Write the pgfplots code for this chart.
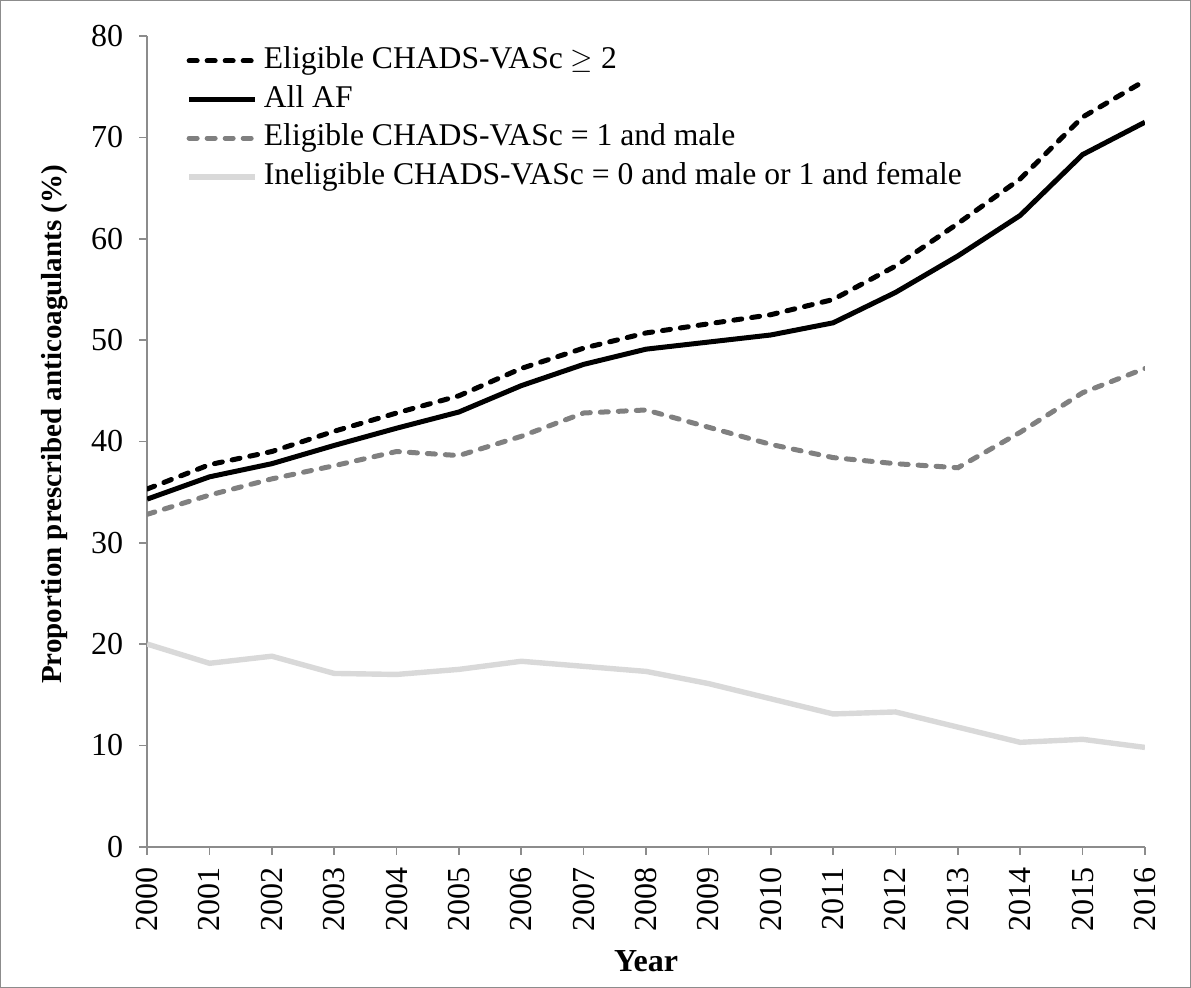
\documentclass[border=0pt]{standalone}
\usepackage{pgfplots}
\pgfplotsset{compat=1.18}
\usepackage{pgfplotstable}
\usepackage{fontspec}
\setmainfont{Liberation Serif}
\definecolor{axgray}{HTML}{8C8C8C}
\definecolor{midgray}{HTML}{808080}
\definecolor{lightgray}{HTML}{D9D9D9}
\pgfplotstableread{
year elig2 allaf elig1 inel
2000 35.3 34.3 32.8 20.0
2001 37.7 36.5 34.7 18.1
2002 39.0 37.8 36.3 18.8
2003 41.0 39.6 37.6 17.1
2004 42.8 41.3 39.0 17.0
2005 44.5 42.9 38.6 17.5
2006 47.2 45.5 40.5 18.3
2007 49.2 47.6 42.8 17.8
2008 50.7 49.1 43.1 17.3
2009 51.6 49.8 41.4 16.1
2010 52.5 50.5 39.7 14.6
2011 54.0 51.7 38.4 13.1
2012 57.3 54.7 37.8 13.3
2013 61.5 58.3 37.4 11.8
2014 65.9 62.3 40.9 10.3
2015 72.0 68.3 44.8 10.6
2016 75.6 71.5 47.2 9.8
}\datatable
\begin{document}
\begin{tikzpicture}
\draw[axgray, line width=0.6pt] (-73.2pt,-70.2pt) rectangle (521.2pt,422.7pt);
\begin{axis}[
  scale only axis,
  width=498.5pt, height=405pt,
  xmin=2000, xmax=2016, ymin=0, ymax=80,
  axis lines*=left,
  axis line style={axgray, line width=0.8pt},
  xtick={2000,...,2016}, ytick={0,10,...,80},
  tick style={axgray, line width=0.8pt},
  tick align=outside,
  major tick length=4pt,
  /pgf/number format/assume math mode=true,
  /pgf/number format/1000 sep={},
  tick label style={font=\fontsize{16}{19}\selectfont},
  xticklabel style={rotate=90, anchor=east, yshift=0pt, xshift=-3pt},
  yticklabel style={xshift=-4.5pt},
  xlabel={\textbf{Year}},
  ylabel={\textbf{Proportion prescribed anticoagulants (\%)}},
  xlabel style={font=\fontsize{16}{19}\selectfont, at={(axis description cs:0.5,-0.1407)}, anchor=center},
  ylabel style={font=\fontsize{14.5}{17}\selectfont, at={(axis description cs:-0.0923,0.521)}, anchor=center},
  legend style={at={(0.039,1)}, anchor=north west, draw=none, fill=none,
    font=\fontsize{15.8}{16}\selectfont, row sep=4.8pt, inner sep=0pt,
    nodes={inner ysep=0pt, inner xsep=3pt, text height=11pt, text depth=3.5pt}, yshift=-5pt},
  legend cell align=left,
  legend image code/.code={\draw[#1] (0pt,0pt) -- (33pt,0pt);},
]
\addplot[black, line width=2.5pt, dash pattern=on 4pt off 5pt, line cap=round] table[x=year,y=elig2]{\datatable};
\addlegendentry{Eligible CHADS-VASc $\geq$ 2}
\addplot[black, line width=2.5pt, line cap=butt] table[x=year,y=allaf]{\datatable};
\addlegendentry{All AF}
\addplot[midgray, line width=2.5pt, dash pattern=on 4pt off 5pt, line cap=round] table[x=year,y=elig1]{\datatable};
\addlegendentry{Eligible CHADS-VASc = 1 and male}
\addplot[lightgray, line width=2.7pt, line cap=butt] table[x=year,y=inel]{\datatable};
\addlegendentry{Ineligible CHADS-VASc = 0 and male or 1 and female}
\end{axis}
\end{tikzpicture}
\end{document}
